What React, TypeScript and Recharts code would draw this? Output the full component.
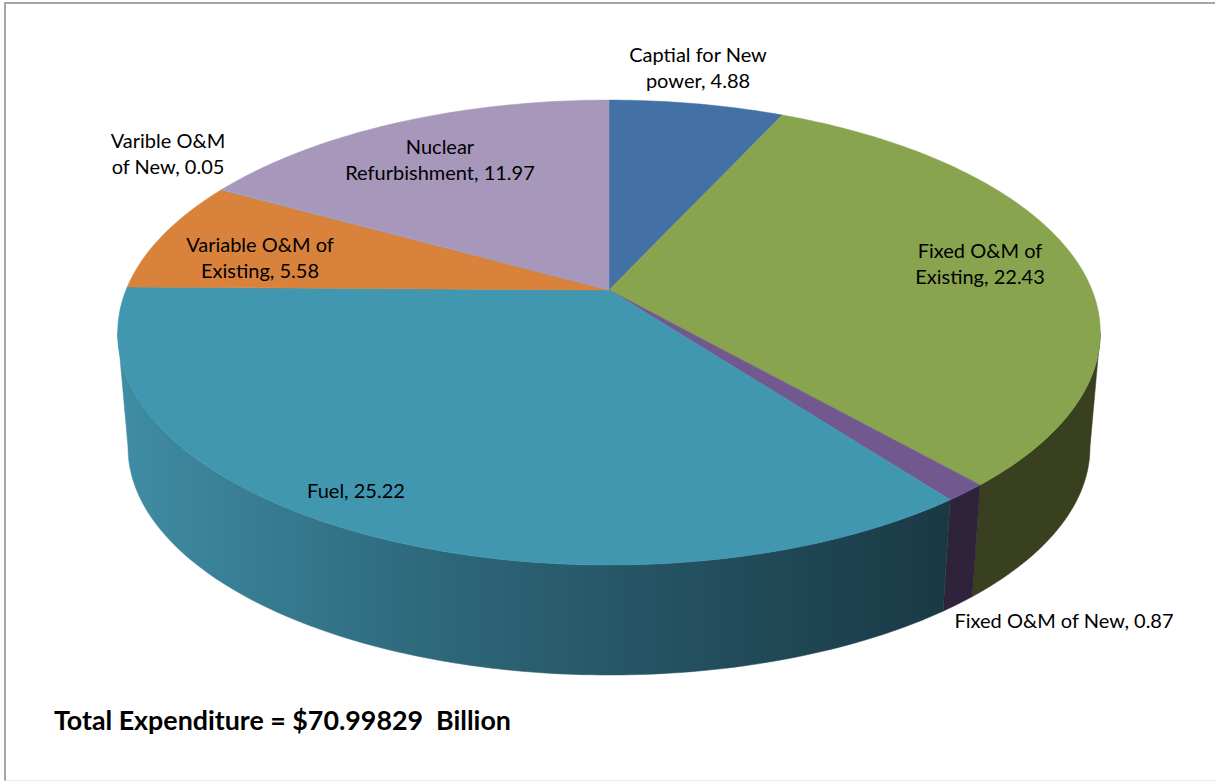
import { Pie, PieChart } from "recharts";

const categories = [
  "Captial for New power",
  "Fixed O&M of Existing",
  "Fixed O&M of New",
  "Fuel",
  "Variable O&M of Existing",
  "Varible O&M of New",
  "Nuclear Refurbishment",
];
const expenditure = [4.88, 22.43, 0.87, 25.22, 5.58, 0.05, 11.97];
const topColors = ["#4371A5", "#89A44F", "#71588F", "#4097AF", "#D9823B", "#8DA3CB", "#A797BB"];
const wallColors = ["#22395A", "#38401F", "#2E233B", "url(#fuelWall)", "#7A4518", "#4A5A78", "#5A4E68"];

// wrapped data labels, one entry per slice
const labelLines = [
  ["Captial for New", "power, 4.88"],
  ["Fixed O&M of", "Existing, 22.43"],
  ["Fixed O&M of New, 0.87"],
  ["Fuel, 25.22"],
  ["Variable O&M of", "Existing, 5.58"],
  ["Varible O&M", "of New, 0.05"],
  ["Nuclear", "Refurbishment, 11.97"],
];
const labelAnchors = [
  [698, 54],
  [980, 250],
  [1064, 620],
  [356, 490],
  [260, 244],
  [168, 140],
  [440, 146],
];

const rows = categories.map((name, i) => ({
  name,
  value: expenditure[i],
  fill: topColors[i],
  wallFill: wallColors[i],
}));

const WIDTH = 1215;
const HEIGHT = 782;
const RAD = Math.PI / 180;

// perspective of the disc: pie centre, half axes and foreshortening
const CX = 609;
const CY = 290;
const AX = 483;
const BY = 224.7;
const K = 0.183;
// the bottom face is the top face shrunk towards a far vanishing point
const DROP_SCALE = 0.979;
const VANISH_Y = 5803;
// where the rim turns away from the viewer
const FRONT_FROM = 100.5;
const FRONT_TO = 259.5;

const project = (theta: number) => {
  const u = Math.sin(theta * RAD);
  const v = -Math.cos(theta * RAD);
  const d = 1 - K * v;
  return [CX + (AX * u) / d, CY + (BY * v) / d];
};

const dropped = ([x, y]: number[]) => [
  CX + DROP_SCALE * (x - CX),
  VANISH_Y + DROP_SCALE * (y - VANISH_Y),
];

const arc = (from: number, to: number) => {
  const steps = Math.max(2, Math.ceil(Math.abs(to - from)));
  const pts: number[][] = [];
  for (let i = 0; i <= steps; i++) pts.push(project(from + ((to - from) * i) / steps));
  return pts;
};

const toPath = (pts: number[][]) =>
  "M" + pts.map((p) => `${p[0].toFixed(2)},${p[1].toFixed(2)}`).join("L") + "Z";

// recharts hands out angles with 90 at twelve o'clock, running clockwise to -270
const TopSlice = (props: any) => {
  const from = 90 - props.startAngle;
  const to = 90 - props.endAngle;
  return <path d={toPath([[CX, CY], ...arc(from, to)])} fill={props.fill} stroke={props.fill} strokeWidth={0.5} />;
};

const WallSlice = (props: any) => {
  // only the part facing the viewer is drawn
  const from = Math.max(90 - props.startAngle, FRONT_FROM);
  const to = Math.min(90 - props.endAngle, FRONT_TO);
  if (from >= to) return null;
  const upper = arc(from, to);
  const lower = upper.map(dropped).reverse();
  const fill = props.wallFill ?? props.payload?.wallFill;
  return <path d={toPath([...upper, ...lower])} fill={fill} stroke={fill} strokeWidth={0.5} />;
};

const renderLabel = (props: any) => {
  const lines = labelLines[props.index];
  const [x, y] = labelAnchors[props.index];
  return (
    <text
      key={props.index}
      x={x}
      y={y}
      textAnchor="middle"
      dominantBaseline="central"
      fontFamily="Lato, sans-serif"
      fontSize={20}
      fill="#000"
    >
      {lines.map((line, i) => (
        <tspan key={line} x={x} dy={i === 0 ? 0 : 26}>
          {line}
        </tspan>
      ))}
    </text>
  );
};

export default function App() {
  return (
    <div style={{ position: "absolute", left: 0, top: 0, width: WIDTH, height: HEIGHT, overflow: "hidden", background: "#fff" }}>
      <div
        style={{
          position: "absolute",
          left: 4,
          top: 2,
          width: WIDTH + 20,
          height: HEIGHT - 3,
          borderLeft: "2px solid #A6A6A6",
          borderTop: "2px solid #A6A6A6",
          borderBottom: "1px solid #E8E8E8",
          boxSizing: "border-box",
        }}
      />
      <div style={{ position: "absolute", left: 0, top: 0 }}>
        <PieChart width={WIDTH} height={HEIGHT} margin={{ top: 0, right: 0, bottom: 0, left: 0 }}>
          <defs>
            <linearGradient id="fuelWall" gradientUnits="userSpaceOnUse" x1={125} y1={0} x2={945} y2={0}>
              <stop offset="0%" stopColor="#3F8CA3" />
              <stop offset="35%" stopColor="#2F6A7D" />
              <stop offset="70%" stopColor="#234F5E" />
              <stop offset="100%" stopColor="#1A3945" />
            </linearGradient>
          </defs>
          <Pie
            data={rows}
            dataKey="value"
            nameKey="name"
            cx={CX}
            cy={CY}
            outerRadius={200}
            startAngle={90}
            endAngle={-270}
            stroke="none"
            shape={WallSlice}
            isAnimationActive={false}
          />
          <Pie
            data={rows}
            dataKey="value"
            nameKey="name"
            cx={CX}
            cy={CY}
            outerRadius={200}
            startAngle={90}
            endAngle={-270}
            stroke="none"
            shape={TopSlice}
            label={renderLabel}
            labelLine={false}
            isAnimationActive={false}
          />
          <text x={54} y={720} dominantBaseline="central" fontFamily="Lato, sans-serif" fontWeight={700} fontSize={26.8} fill="#000">
            Total Expenditure = $70.99829{"\u00A0\u00A0"}Billion
          </text>
        </PieChart>
      </div>
    </div>
  );
}
